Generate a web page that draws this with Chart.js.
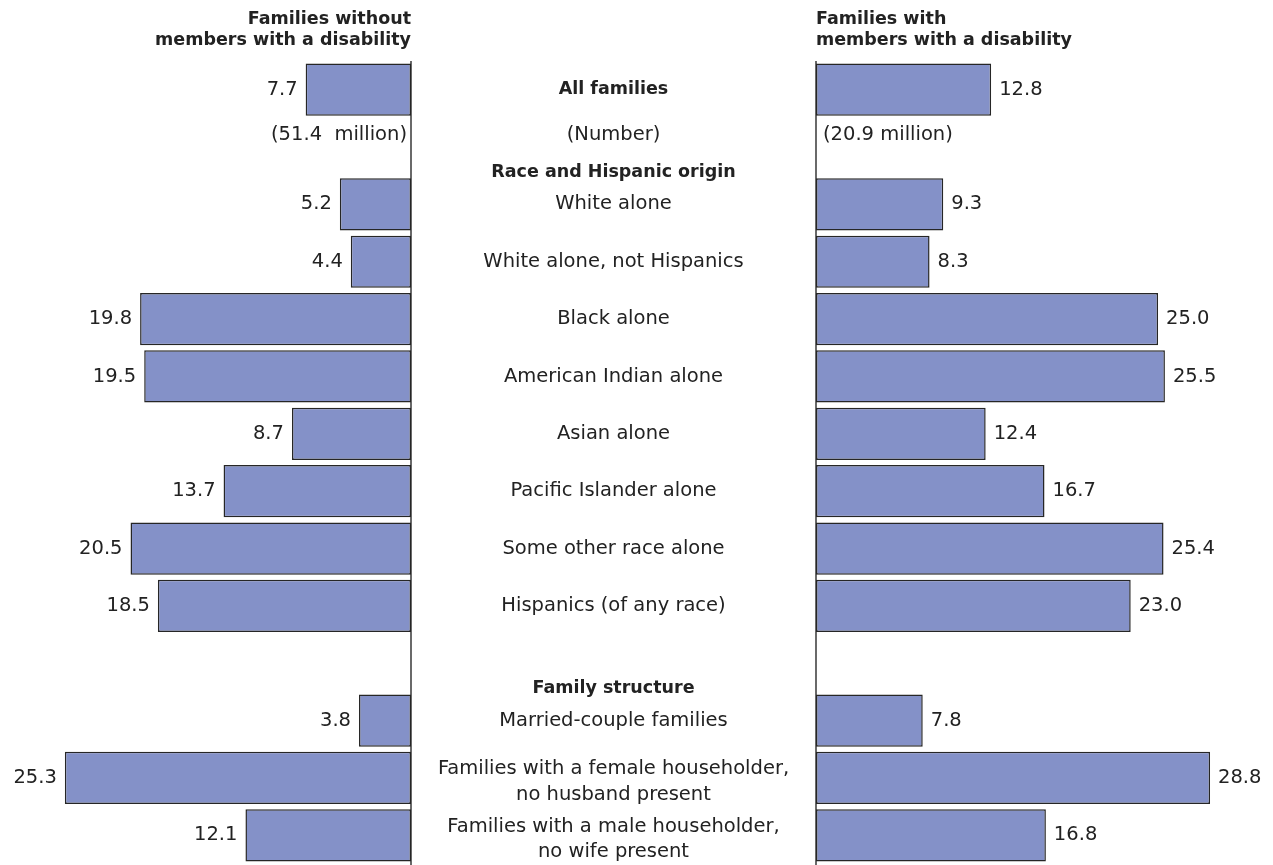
<!DOCTYPE html>
<html lang="en">
<head>
<meta charset="utf-8">
<title>Families with and without members with a disability</title>
<script src="https://cdn.jsdelivr.net/npm/chart.js@4.4.1/dist/chart.umd.min.js"></script>
<style>
  html, body { margin: 0; padding: 0; background: #ffffff; }
  #wrap { position: relative; width: 1273px; height: 865px; }
</style>
</head>
<body>
<div id="wrap"><canvas id="chart" width="1273" height="865"></canvas></div>
<script>
// Row categories (empty strings are spacer rows)
const categories = [
  'All families',
  '',
  'White alone',
  'White alone, not Hispanics',
  'Black alone',
  'American Indian alone',
  'Asian alone',
  'Pacific Islander alone',
  'Some other race alone',
  'Hispanics (of any race)',
  '',
  'Married-couple families',
  ['Families with a female householder,', 'no husband present'],
  ['Families with a male householder,', 'no wife present']
];

// Percent values for each panel
const withoutDisability = [7.7, null, 5.2, 4.4, 19.8, 19.5, 8.7, 13.7, 20.5, 18.5, null, 3.8, 25.3, 12.1];
const withDisability    = [12.8, null, 9.3, 8.3, 25.0, 25.5, 12.4, 16.7, 25.4, 23.0, null, 7.8, 28.8, 16.8];

// Panel titles
const leftTitle  = ['Families without', 'members with a disability'];
const rightTitle = ['Families with', 'members with a disability'];

// Group headings, attached to the first row of each group
const groupHeadings = ['Race and Hispanic origin', 'Family structure'];
const groupFirstRows = [2, 11];

// Bold row names
const boldRows = ['All families'];

// Family counts row
const countRow = 1;
const countLabels = ['(51.4  million)', '(Number)', '(20.9 million)'];

const BAR_FILL = '#8491C8';
const BAR_EDGE = '#262626';
const AXIS_COLOR = '#2a2a2a';
const TEXT_COLOR = '#222222';
const FONT = '"DejaVu Sans", sans-serif';
const REG = '19.5px ' + FONT;
const BOLD = 'bold 17.5px ' + FONT;

function drawLines(ctx, lines, x, yCenter, lineHeight, shift) {
  const n = lines.length;
  lines.forEach((ln, k) => {
    const yy = n > 1 ? yCenter + (k - (n - 1) / 2) * lineHeight + shift : yCenter;
    ctx.fillText(ln, x, yy);
  });
}

const butterflyDecor = {
  id: 'butterflyDecor',
  beforeDatasetsDraw(chart) {
    const { ctx, scales, chartArea } = chart;
    const xs = [scales.xL.getPixelForValue(0), scales.xR.getPixelForValue(0)];
    ctx.save();
    ctx.strokeStyle = AXIS_COLOR;
    ctx.lineWidth = 1.4;
    xs.forEach(x => {
      ctx.beginPath();
      ctx.moveTo(x, chartArea.top);
      ctx.lineTo(x, chart.height);
      ctx.stroke();
    });
    ctx.restore();
  },
  afterDatasetsDraw(chart) {
    const { ctx, scales } = chart;
    const yS = scales.y, xL = scales.xL, xC = scales.xC, xR = scales.xR;
    const leftZero = xL.getPixelForValue(0);
    const rightZero = xR.getPixelForValue(0);
    const midX = (xC.left + xC.right) / 2;

    ctx.save();
    ctx.fillStyle = TEXT_COLOR;

    // Panel titles
    ctx.font = BOLD;
    ctx.textBaseline = 'alphabetic';
    ctx.textAlign = 'right';
    leftTitle.forEach((t, k) => ctx.fillText(t, leftZero, 24 + k * 21));
    ctx.textAlign = 'left';
    rightTitle.forEach((t, k) => ctx.fillText(t, rightZero, 24 + k * 21));

    // Value labels beside the bars
    ctx.font = REG;
    ctx.textBaseline = 'middle';
    const metaL = chart.getDatasetMeta(0).data;
    const metaR = chart.getDatasetMeta(1).data;
    ctx.textAlign = 'right';
    withoutDisability.forEach((v, i) => {
      if (v === null) return;
      const el = metaL[i];
      ctx.fillText(v.toFixed(1), el.x - 8, el.y);
    });
    ctx.textAlign = 'left';
    withDisability.forEach((v, i) => {
      if (v === null) return;
      const el = metaR[i];
      ctx.fillText(v.toFixed(1), el.x + 8, el.y);
    });

    // Row names in the centre column
    ctx.textAlign = 'center';
    categories.forEach((c, i) => {
      if (!c || (Array.isArray(c) && !c.length)) return;
      const lines = Array.isArray(c) ? c : [c];
      ctx.font = boldRows.includes(lines[0]) ? BOLD : REG;
      drawLines(ctx, lines, midX, yS.getPixelForValue(i), 25.5, 4);
    });

    // Group headings
    ctx.font = BOLD;
    groupHeadings.forEach((h, k) => {
      ctx.fillText(h, midX, yS.getPixelForValue(groupFirstRows[k]) - 32);
    });

    // Family counts
    ctx.font = REG;
    const yc = yS.getPixelForValue(countRow) - 12;
    ctx.textAlign = 'right';
    ctx.fillText(countLabels[0], leftZero - 4, yc);
    ctx.textAlign = 'center';
    ctx.fillText(countLabels[1], midX, yc);
    ctx.textAlign = 'left';
    ctx.fillText(countLabels[2], rightZero + 7, yc);

    ctx.restore();
  }
};

const barStyle = {
  backgroundColor: BAR_FILL,
  borderColor: BAR_EDGE,
  borderWidth: 1.5,
  borderSkipped: false,
  barPercentage: 0.91,
  categoryPercentage: 1.0,
  grouped: false,
  yAxisID: 'y'
};

new Chart(document.getElementById('chart'), {
  type: 'bar',
  data: {
    labels: categories.map((c, i) => i),
    datasets: [
      Object.assign({ label: leftTitle.join(' '), data: withoutDisability, xAxisID: 'xL' }, barStyle),
      Object.assign({ label: rightTitle.join(' '), data: withDisability, xAxisID: 'xR' }, barStyle)
    ]
  },
  options: {
    indexAxis: 'y',
    responsive: false,
    animation: false,
    events: [],
    layout: { padding: { top: 61, bottom: 1, left: 0, right: 0 } },
    plugins: {
      legend: { display: false },
      tooltip: { enabled: false }
    },
    scales: {
      y: { type: 'category', display: false, offset: true },
      xL: { type: 'linear', position: 'bottom', stack: 'panels', stackWeight: 411, reverse: true, min: 0, max: 30.04, display: false },
      xC: { type: 'linear', position: 'bottom', stack: 'panels', stackWeight: 405, min: 0, max: 1, display: false },
      xR: { type: 'linear', position: 'bottom', stack: 'panels', stackWeight: 457, min: 0, max: 33.4, display: false }
    }
  },
  plugins: [butterflyDecor]
});
</script>
</body>
</html>
